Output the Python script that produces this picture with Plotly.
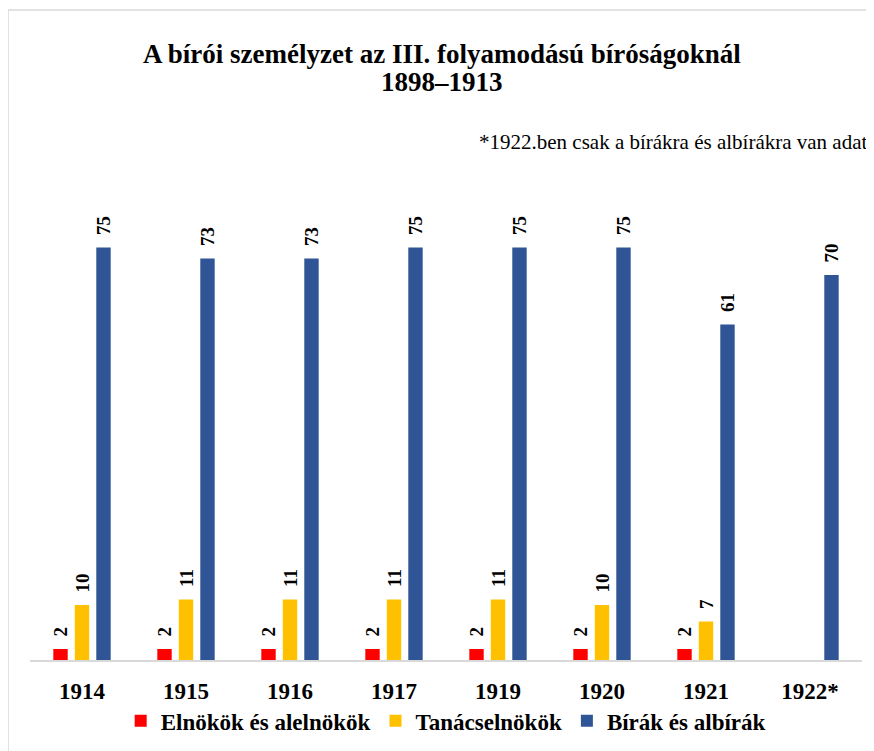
import plotly.graph_objects as go

categories = ["1914", "1915", "1916", "1917", "1919", "1920", "1921", "1922*"]
elnokok = [2, 2, 2, 2, 2, 2, 2, None]
tanacselnokok = [10, 11, 11, 11, 11, 10, 7, None]
birak = [75, 73, 73, 75, 75, 75, 61, 70]

series = [
    ("Elnökök és alelnökök", elnokok, "#FF0000"),
    ("Tanácselnökök", tanacselnokok, "#FFC000"),
    ("Bírák és albírák", birak, "#2F5597"),
]

title_lines = ["A bírói személyzet az III. folyamodású bíróságoknál", "1898–1913"]
note = "*1922.ben csak a bírákra és albírákra van adat"

FONT = "Liberation Serif"
NB = "\u00a0"

fig = go.Figure()
for name, vals, color in series:
    fig.add_trace(go.Bar(
        name=name, x=categories, y=vals,
        marker=dict(color=color, line=dict(width=0)),
        text=[("" if v is None else NB * 2 + str(v)) for v in vals],
        textposition="outside", textangle=-90, constraintext="none",
        textfont=dict(family=FONT, size=19, color="#000000", weight="bold"),
        cliponaxis=False,
    ))

fig.update_layout(
    width=874, height=751,
    paper_bgcolor="white", plot_bgcolor="white",
    margin=dict(l=22, r=20, t=212, b=99, autoexpand=False),
    barmode="group", bargap=0.38, bargroupgap=0.33,
    font=dict(family=FONT, color="#000000"),
    showlegend=True,
    legend=dict(
        orientation="h", x=0.109, xanchor="left", y=-0.138, yanchor="middle",
        font=dict(family=FONT, size=23, color="#000000", weight="bold"),
        traceorder="normal", itemwidth=30,
    ),
    xaxis=dict(
        showgrid=False, showline=True, linecolor="#D9D9D9", linewidth=1.5,
        ticks="", tickfont=dict(family=FONT, size=23, color="#000000", weight="bold"),
        ticklabelstandoff=10,
    ),
    yaxis=dict(range=[0, 80], visible=False, showgrid=False, zeroline=False),
    annotations=[
        dict(text="<b>" + title_lines[0] + "</b>", xref="paper", yref="paper",
             x=0.495, y=1.377, xanchor="center", yanchor="middle", showarrow=False,
             font=dict(family=FONT, size=27, color="#000000")),
        dict(text="<b>" + title_lines[1] + "</b>", xref="paper", yref="paper",
             x=0.495, y=1.314, xanchor="center", yanchor="middle", showarrow=False,
             font=dict(family=FONT, size=27, color="#000000")),
        dict(text=note, xref="paper", yref="paper", x=1.008, y=1.177,
             xanchor="right", yanchor="middle", showarrow=False,
             font=dict(family=FONT, size=21, color="#000000")),
    ],
    shapes=[
        dict(type="line", xref="paper", yref="paper", x0=-0.0264, x1=-0.0264, y0=-0.3, y1=1.477,
             line=dict(color="#D9D9D9", width=1.5)),
        dict(type="line", xref="paper", yref="paper", x0=-0.0264, x1=1.05, y0=1.477, y1=1.477,
             line=dict(color="#D9D9D9", width=1.5)),
    ],
)

fig.write_html("out.html")
